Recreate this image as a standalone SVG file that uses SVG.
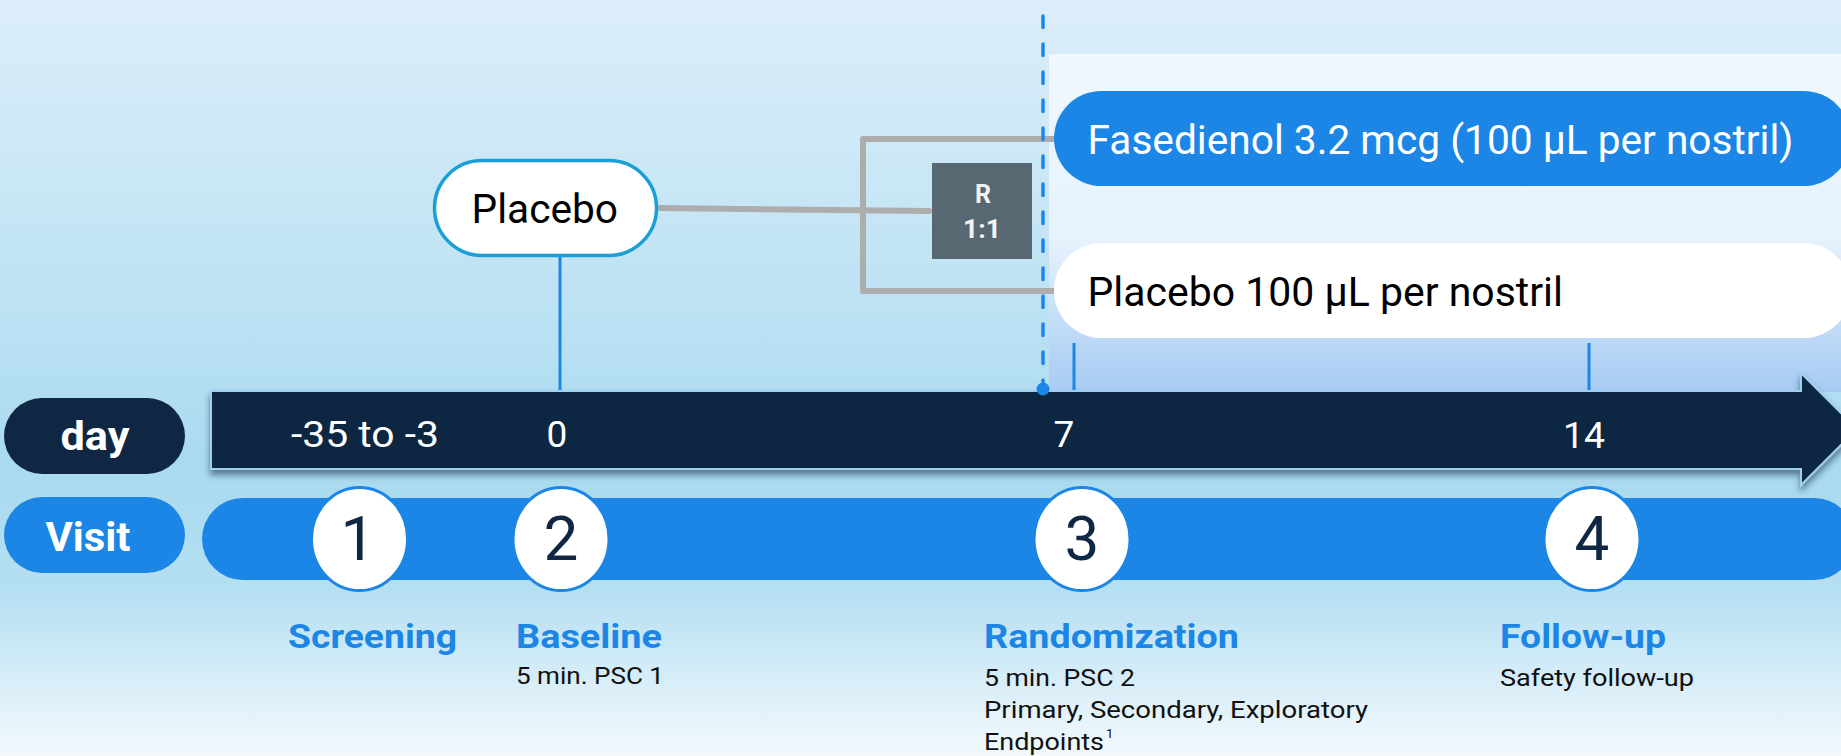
<svg xmlns="http://www.w3.org/2000/svg" width="1841" height="756" viewBox="0 0 1841 756">
  <defs>
    <linearGradient id="bgGrad" x1="0" y1="0" x2="0" y2="1">
      <stop offset="0" stop-color="#dceef9"/>
      <stop offset="0.4" stop-color="#bde2f4"/>
      <stop offset="0.62" stop-color="#a9daef"/>
      <stop offset="0.78" stop-color="#b5dff2"/>
      <stop offset="1" stop-color="#f3f9fd"/>
    </linearGradient>
    <linearGradient id="panelGrad" x1="0" y1="0" x2="0" y2="1">
      <stop offset="0" stop-color="#f0f7fe"/>
      <stop offset="0.55" stop-color="#e6f2fd"/>
      <stop offset="1" stop-color="#a6cbf3"/>
    </linearGradient>
    <filter id="arrowShadow" x="-5%" y="-30%" width="110%" height="170%">
      <feDropShadow dx="0" dy="5" stdDeviation="3" flood-color="#0f2742" flood-opacity="0.55"/>
    </filter>
    <style>
      .sans { font-family: Roboto, "Liberation Sans", sans-serif; }
      .pill-text { font-size: 41px; }
      .day-num { font-size: 37px; fill: #ffffff; }
      .row-label { font-size: 41px; font-weight: 700; fill: #ffffff; }
      .visit-circle { fill: #ffffff; stroke: #1c86e6; stroke-width: 3; }
      .visit-num { font-size: 62px; fill: #0f2742; text-anchor: middle; }
      .step-title { font-size: 34px; font-weight: 700; fill: #1c86e6; }
      .step-note { font-size: 24px; fill: #111111; }
      .grey-link { fill: none; stroke: #adadad; stroke-width: 6; stroke-linecap: round; stroke-linejoin: round; }
      .tick { stroke: #1c86e6; stroke-width: 3; }
    </style>
  </defs>

  <!-- background -->
  <rect x="0" y="0" width="1841" height="756" fill="url(#bgGrad)"/>
  <!-- treatment-period panel -->
  <rect x="1049" y="54" width="792" height="338" fill="url(#panelGrad)"/>

  <!-- connectors -->
  <g id="connectors">
    <path class="grey-link" d="M658,208 L929,211"/>
    <path class="grey-link" d="M1056,139 H863 V291 H1056"/>
    <line class="tick" x1="560" y1="257" x2="560" y2="392"/>
    <line class="tick" x1="1074" y1="343" x2="1074" y2="392"/>
    <line class="tick" x1="1589" y1="343" x2="1589" y2="392"/>
  </g>

  <!-- timeline arrow -->
  <g id="timeline-arrow">
    <path d="M211,391 H1801 V373 L1857,429 L1801,485 V469 H211 Z" fill="#0f2742" stroke="#9fd0f0" stroke-width="2" filter="url(#arrowShadow)"/>
    <text class="sans day-num" x="291" y="447" textLength="148" lengthAdjust="spacingAndGlyphs">-35 to -3</text>
    <text class="sans day-num" x="557" y="447" text-anchor="middle">0</text>
    <text class="sans day-num" x="1064" y="447" text-anchor="middle">7</text>
    <text class="sans day-num" x="1584" y="448" text-anchor="middle" textLength="42" lengthAdjust="spacingAndGlyphs">14</text>
  </g>

  <!-- randomization marker -->
  <g id="randomization-line">
    <line x1="1043" y1="16" x2="1043" y2="382" stroke="#1c86e6" stroke-width="3.5" stroke-linecap="round" stroke-dasharray="11.5 16.5"/>
    <circle cx="1043" cy="389" r="6.5" fill="#1c86e6"/>
  </g>

  <!-- run-in node -->
  <g id="placebo-run-in">
    <rect x="434.5" y="160.5" width="222" height="95" rx="47.5" fill="#ffffff" stroke="#1a9fd8" stroke-width="3.5"/>
    <text class="sans pill-text" x="471.5" y="223" fill="#000000" textLength="146.5" lengthAdjust="spacingAndGlyphs">Placebo</text>
  </g>

  <!-- randomizer node -->
  <g id="randomizer">
    <rect x="932" y="163" width="100" height="96" fill="#586873"/>
    <text class="sans" x="983" y="203" font-size="25" font-weight="700" fill="#f2f2f2" text-anchor="middle">R</text>
    <text class="sans" x="982" y="238" font-size="25" font-weight="700" fill="#f2f2f2" text-anchor="middle" textLength="38" lengthAdjust="spacingAndGlyphs">1:1</text>
  </g>

  <!-- treatment arms -->
  <g id="arm-fasedienol">
    <rect x="1054" y="91" width="797" height="95" rx="47.5" fill="#1c86e6"/>
    <text class="sans pill-text" x="1087.5" y="154" fill="#ffffff" textLength="706" lengthAdjust="spacingAndGlyphs">Fasedienol 3.2 mcg (100 µL per nostril)</text>
  </g>
  <g id="arm-placebo">
    <rect x="1054" y="243" width="797" height="95" rx="47.5" fill="#ffffff"/>
    <text class="sans pill-text" x="1087.5" y="306" fill="#000000" textLength="475.5" lengthAdjust="spacingAndGlyphs">Placebo 100 µL per nostril</text>
  </g>

  <!-- row labels -->
  <g id="day-label">
    <rect x="4" y="398" width="181" height="76" rx="38" fill="#0f2742"/>
    <text class="sans row-label" x="95" y="450" text-anchor="middle" textLength="69" lengthAdjust="spacingAndGlyphs">day</text>
  </g>
  <g id="visit-label">
    <rect x="4" y="497" width="181" height="76" rx="38" fill="#1c86e6"/>
    <text class="sans row-label" x="88" y="551" text-anchor="middle" textLength="85" lengthAdjust="spacingAndGlyphs">Visit</text>
  </g>

  <!-- visit bar -->
  <g id="visit-bar">
    <rect x="202" y="498" width="1653" height="82" rx="41" fill="#1c86e6"/>
  </g>

  <g id="visit-1">
    <ellipse class="visit-circle" cx="359.5" cy="539" rx="48" ry="51.5"/>
    <text class="sans visit-num" x="358" y="560">1</text>
  </g>
  <g id="visit-2">
    <ellipse class="visit-circle" cx="561" cy="539" rx="48" ry="51.5"/>
    <text class="sans visit-num" x="561" y="560">2</text>
  </g>
  <g id="visit-3">
    <ellipse class="visit-circle" cx="1082" cy="539" rx="48" ry="51.5"/>
    <text class="sans visit-num" x="1082" y="560">3</text>
  </g>
  <g id="visit-4">
    <ellipse class="visit-circle" cx="1592" cy="539" rx="48" ry="51.5"/>
    <text class="sans visit-num" x="1592" y="560">4</text>
  </g>

  <!-- visit descriptions -->
  <g id="label-screening">
    <text class="sans step-title" x="288" y="648" textLength="169" lengthAdjust="spacingAndGlyphs">Screening</text>
  </g>
  <g id="label-baseline">
    <text class="sans step-title" x="516" y="648" textLength="146" lengthAdjust="spacingAndGlyphs">Baseline</text>
    <text class="sans step-note" x="516" y="684" textLength="148" lengthAdjust="spacingAndGlyphs">5 min. PSC 1</text>
  </g>
  <g id="label-randomization">
    <text class="sans step-title" x="984" y="648" textLength="255" lengthAdjust="spacingAndGlyphs">Randomization</text>
    <text class="sans step-note" x="984" y="686" textLength="151" lengthAdjust="spacingAndGlyphs">5 min. PSC 2</text>
    <text class="sans step-note" x="984" y="718" textLength="384" lengthAdjust="spacingAndGlyphs">Primary, Secondary, Exploratory</text>
    <text class="sans step-note" x="984" y="750" textLength="120" lengthAdjust="spacingAndGlyphs">Endpoints</text>
    <text class="sans" x="1106" y="738" font-size="13" fill="#111111">1</text>
  </g>
  <g id="label-follow-up">
    <text class="sans step-title" x="1500" y="648" textLength="166" lengthAdjust="spacingAndGlyphs">Follow-up</text>
    <text class="sans step-note" x="1500" y="686" textLength="194" lengthAdjust="spacingAndGlyphs">Safety follow-up</text>
  </g>
</svg>
